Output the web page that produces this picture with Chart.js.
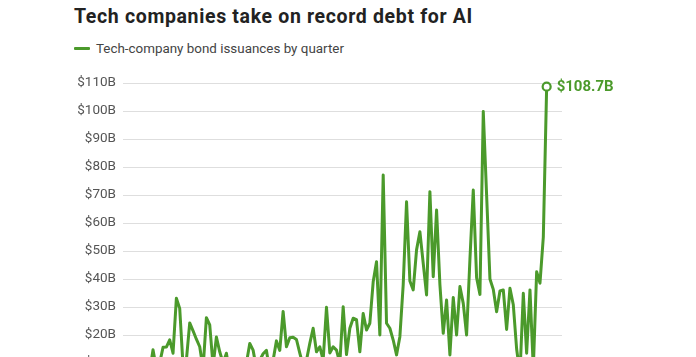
<!DOCTYPE html>
<html>
<head>
<meta charset="utf-8">
<script src="https://cdn.jsdelivr.net/npm/chart.js@4/dist/chart.umd.min.js"></script>
<style>
  html, body { margin: 0; padding: 0; background: #fff; overflow: hidden; width: 696px; height: 357px; }
  #wrap { position: relative; width: 696px; height: 357px; overflow: hidden; }
  #title { position: absolute; left: 74px; top: 5px; font-family: Roboto, "Liberation Sans", sans-serif; font-weight: 700; font-size: 19.5px; letter-spacing: 0.65px; color: #222; white-space: nowrap; }
  #legend { position: absolute; left: 74px; top: 41px; font-family: Roboto, "Liberation Sans", sans-serif; font-size: 13.4px; color: #444; white-space: nowrap; display: flex; align-items: center; }
  #legend .sw { display: inline-block; width: 16px; height: 3px; background: #4b9a2b; margin-right: 6px; border-radius: 1px; }
  canvas { position: absolute; left: 0; top: 0; }
</style>
</head>
<body>
<div id="wrap">
  <div id="title">Tech companies take on record debt for AI</div>
  <div id="legend"><span class="sw"></span><span>Tech-company bond issuances by quarter</span></div>
  <canvas id="c" width="696" height="420"></canvas>
</div>
<script>
// Quarterly tech-company bond issuance, $ billions
const startYear = 1994;
const issuance = [
  4, 6, 3, 7, 5, 8, 4, 9, 7, 14.7,
  8, 10, 15.6, 15.7, 18.3, 13.5, 33.1, 29.5, 9, 11,
  24.3, 21.5, 18.5, 15.8, 8, 26.2, 23.6, 9, 19.3, 14,
  10, 13.5, 6, 9, 5, 8, 7, 10, 17, 14.6,
  8, 11, 13.3, 14.5, 7, 11, 17.9, 14.5, 28.4, 15.8,
  19, 19.2, 18.4, 13.5, 9, 11, 17, 22.4, 14, 15.8,
  11, 29.9, 13.6, 15.8, 14.6, 10, 30.1, 13, 22.4, 26,
  25.5, 14, 27.7, 21.8, 24.2, 39, 46.2, 20, 77.1, 24.2,
  22.4, 18.2, 12.9, 19.4, 38, 67.6, 39.3, 36.1, 50.4, 56.9,
  45.6, 34.3, 71.2, 40.8, 64.6, 38, 20.6, 32.5, 12.9, 33.4,
  20, 37.3, 31.3, 20, 47, 71.8, 40.5, 34.5, 99.8, 70,
  40, 36.3, 28.3, 35.7, 36.1, 22, 36.7, 30.8, 15, 6,
  34.9, 13.5, 36.1, 8, 42.6, 38.5, 55, 108.7
];
const quarters = issuance.map((_, i) => (startYear + Math.floor(i / 4)) + ' Q' + (i % 4 + 1));
const yTicks = [0, 10, 20, 30, 40, 50, 60, 70, 80, 90, 100, 110];
const yTickLabels = yTicks.map(v => '$' + v + 'B');
const lastLabel = '$108.7B';

const GREEN = '#4b9a2b';
const FONT = 'Roboto, "Liberation Sans", sans-serif';
const lastIdx = issuance.length - 1;

const endLabel = {
  id: 'endLabel',
  afterDatasetsDraw(chart) {
    const meta = chart.getDatasetMeta(0);
    const pt = meta.data[lastIdx];
    const ctx = chart.ctx;
    ctx.save();
    ctx.font = '700 15px ' + FONT;
    ctx.fillStyle = GREEN;
    ctx.textAlign = 'left';
    ctx.textBaseline = 'middle';
    ctx.fillText(lastLabel, pt.x + 10, pt.y + 1);
    ctx.restore();
  }
};

new Chart(document.getElementById('c'), {
  type: 'line',
  data: {
    datasets: [{
      label: 'Tech-company bond issuances by quarter',
      data: issuance.map((v, i) => ({ x: i, y: v, q: quarters[i] })),
      borderColor: GREEN,
      borderWidth: 3,
      tension: 0,
      borderJoinStyle: 'round',
      borderCapStyle: 'round',
      pointRadius: ctx => ctx.dataIndex === lastIdx ? 4 : 0,
      pointHoverRadius: 0,
      pointBackgroundColor: '#fff',
      pointBorderColor: GREEN,
      pointBorderWidth: 2.2,
      clip: false
    }]
  },
  options: {
    responsive: false,
    animation: false,
    layout: { padding: { top: 83, bottom: 29, left: 0, right: 134 } },
    plugins: { legend: { display: false }, tooltip: { enabled: false }, title: { display: false } },
    scales: {
      x: {
        type: 'linear',
        display: false,
        min: 0,
        max: 131.6
      },
      y: {
        min: 0,
        max: 110,
        afterFit(scale) { scale.width = 123; },
        afterBuildTicks(scale) { scale.ticks = yTicks.map(v => ({ value: v })); },
        border: { display: false },
        grid: { color: '#dedede', lineWidth: 1, drawTicks: false },
        ticks: {
          padding: 7,
          color: '#555',
          font: { family: FONT, size: 13.5 },
          callback: (v) => yTickLabels[yTicks.indexOf(v)]
        }
      }
    }
  },
  plugins: [endLabel]
});
</script>
</body>
</html>
